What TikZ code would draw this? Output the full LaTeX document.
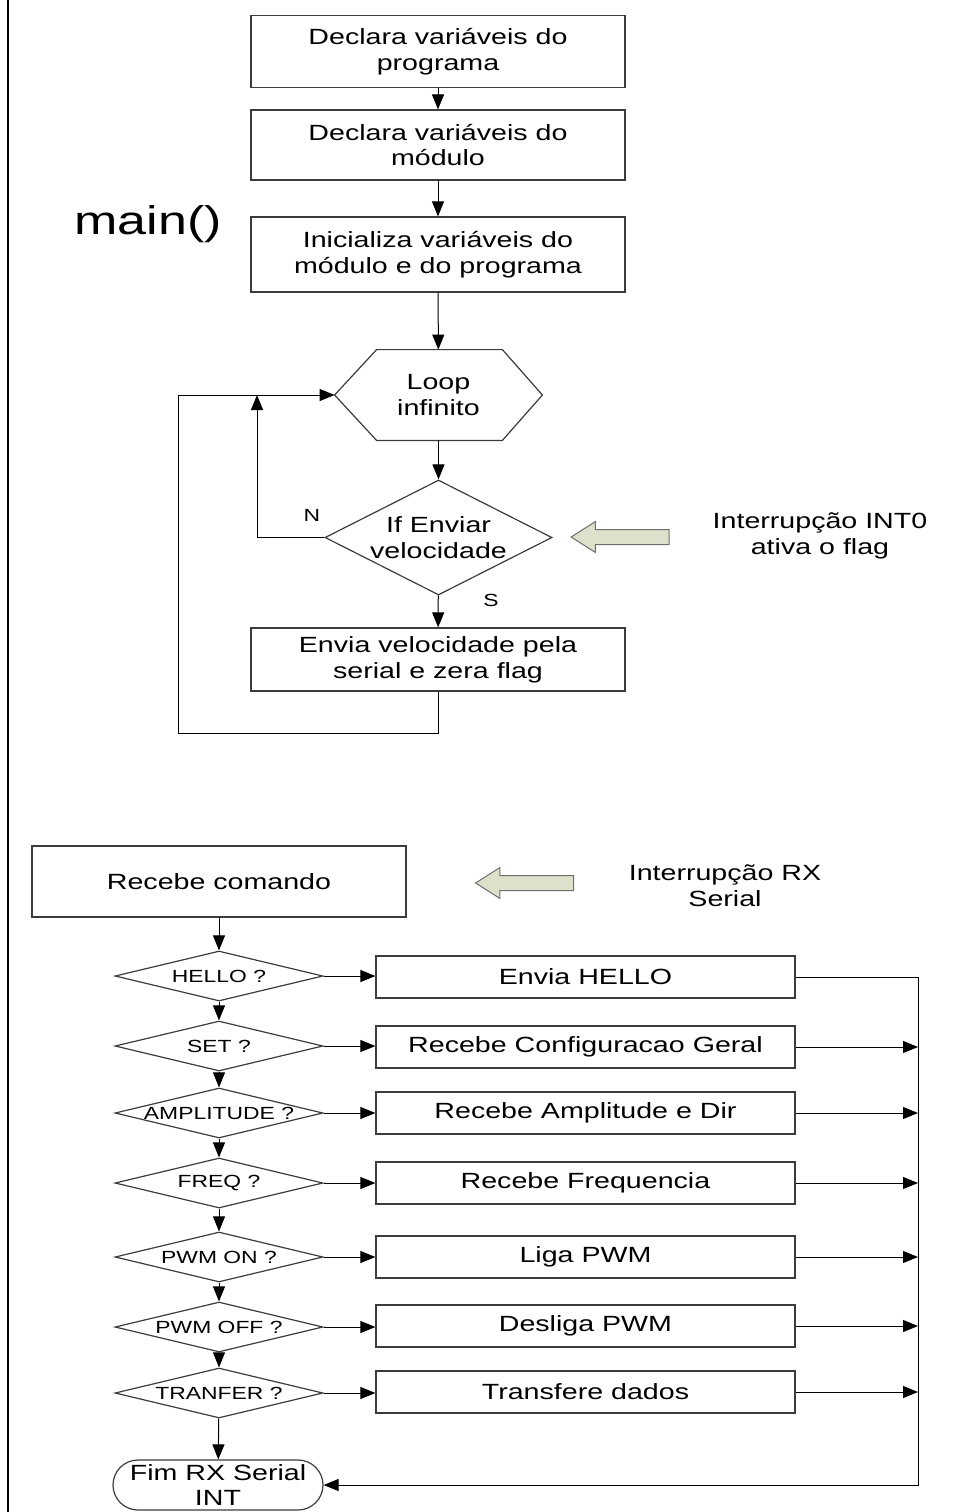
\documentclass[tikz,border=0pt]{standalone}
\usepackage{fontspec}
\setmainfont{Liberation Sans}[FakeStretch=1.3]
\usepackage{tikz}
\usetikzlibrary{calc,arrows.meta,shapes.geometric,shapes.misc,shapes.arrows}
\definecolor{edge}{HTML}{3C3C3C}
\definecolor{sage}{HTML}{DDE0CB}
\definecolor{sageline}{HTML}{6E6E6E}
\newcommand{\txtbig}{\fontsize{11}{12.8}\selectfont}
\newcommand{\txtsmall}{\fontsize{8.8}{10}\selectfont}

\begin{document}
\begin{tikzpicture}[x=0.5pt,y=-0.5pt,
  flow/.style={-{Triangle[length=7.5pt,width=6pt]},line width=0.5pt},
  stepbox/.style={draw=edge,line width=0.6pt,minimum width=187pt,minimum height=36pt,align=center,font=\txtbig,inner sep=1pt},
  testbox/.style={stepbox,minimum width=209.5pt,minimum height=21pt},
  bigdia/.style={diamond,draw=edge,line width=0.6pt,inner sep=0pt,minimum width=113.5pt,minimum height=57.5pt,label={[font=\txtbig,align=center]center:#1}},
  smalldia/.style={diamond,draw=edge,line width=0.6pt,inner sep=0pt,minimum width=104pt,minimum height=25pt,label={[font=\txtsmall]center:#1}},
  fatarrow/.style={single arrow,shape border rotate=180,draw=sageline,fill=sage,line width=0.5pt,inner sep=3.5pt,minimum height=49pt,single arrow head extend=4pt,single arrow tip angle=65}]
\useasboundingbox (0,0) rectangle (964,1512);
\draw[line width=1.3pt] (8,0) -- (8,1512);
% main()
\node[stepbox] (decl1) at (438,51.5) {Declara variáveis do\\programa};
\node[stepbox,minimum height=35pt] (decl2) at (438,145) {Declara variáveis do\\módulo};
\node[stepbox,minimum height=37.5pt] (init) at (438,254.5) {Inicializa variáveis do\\módulo e do programa};
\node[font=\fontsize{20}{22}\selectfont] (mainf) at (148,224) {main()};
\node[minimum width=103.5pt,minimum height=45pt,align=center,font=\txtbig,inner sep=0pt] (loop) at (438.5,395) {Loop\\infinito};
\draw[edge,line width=0.6pt] (loop.west) -- ($(loop.north west)+(42,0)$) -- ($(loop.north east)+(-40,0)$) -- (loop.east) -- ($(loop.south east)+(-40,0)$) -- ($(loop.south west)+(42,0)$) -- cycle;
\node[bigdia={If Enviar\\velocidade}] (ifenv) at (438.5,537.5) {};
\node[stepbox,minimum height=31.5pt] (envia) at (438,659.5) {Envia velocidade pela\\serial e zera flag};
\node[font=\txtsmall] (nlab) at (312,515) {N};
\node[font=\txtsmall] (slab) at (491,600) {S};
\node[fatarrow] (int0arr) at (626,537) {};
\node[font=\txtbig,align=center] (int0) at (820,536) {Interrupção INT0\\ativa o flag};
\coordinate (nret) at (257,395);
\coordinate (back) at (178,733);
\draw[flow] (decl1) -- (decl2);
\draw[flow] (decl2) -- (init);
\draw[flow] (init) -- (loop);
\draw[flow] (loop) -- (ifenv);
\draw[flow] (ifenv) -- (envia);
\draw[flow] (ifenv.west) -| (nret);
\draw[flow] (envia.south) |- (back) |- (loop.west);
% RX serial interrupt
\node[stepbox,minimum height=35.5pt] (rxcmd) at (219,881.5) {Recebe comando};
\node[fatarrow] (rxarr) at (530.5,883) {};
\node[font=\txtbig,align=center] (rxint) at (725,886) {Interrupção RX\\Serial};
\node[smalldia={HELLO ?}] (qhello) at (219,976) {};
\node[smalldia={SET ?}] (qset) at (219,1046) {};
\node[smalldia={AMPLITUDE ?}] (qamp) at (219,1113) {};
\node[smalldia={FREQ ?}] (qfreq) at (219,1183) {};
\node[smalldia={PWM ON ?}] (qpwmon) at (219,1257) {};
\node[smalldia={PWM OFF ?}] (qpwmoff) at (219,1327) {};
\node[smalldia={TRANFER ?}] (qtransf) at (219,1393) {};
\node[testbox] (aHello) at (585.5,977) {Envia HELLO};
\node[testbox] (aSet) at (585.5,1047) {Recebe Configuracao Geral};
\node[testbox] (aAmp) at (585.5,1113) {Recebe Amplitude e Dir};
\node[testbox] (aFreq) at (585.5,1183) {Recebe Frequencia};
\node[testbox] (aPwmOn) at (585.5,1257) {Liga PWM};
\node[testbox] (aPwmOff) at (585.5,1326) {Desliga PWM};
\node[testbox] (aTransf) at (585.5,1392) {Transfere dados};
\node[rounded rectangle,draw=edge,line width=0.6pt,minimum width=105pt,minimum height=25pt,inner sep=0pt,label={[font=\txtbig,align=center]center:Fim RX Serial\\INT}] (fim) at (218,1485) {};
\coordinate (rtop) at (918,976);
\coordinate (rbot) at (918,1485);
\draw[flow] (rxcmd) -- (qhello);
\draw[flow] (qhello) -- (qset);
\draw[flow] (qset) -- (qamp);
\draw[flow] (qamp) -- (qfreq);
\draw[flow] (qfreq) -- (qpwmon);
\draw[flow] (qpwmon) -- (qpwmoff);
\draw[flow] (qpwmoff) -- (qtransf);
\draw[flow] (qtransf) -- (fim);
\draw[flow] (qhello) -- (qhello -| aHello.west);
\draw[flow] (qset) -- (qset -| aSet.west);
\draw[flow] (qamp) -- (qamp -| aAmp.west);
\draw[flow] (qfreq) -- (qfreq -| aFreq.west);
\draw[flow] (qpwmon) -- (qpwmon -| aPwmOn.west);
\draw[flow] (qpwmoff) -- (qpwmoff -| aPwmOff.west);
\draw[flow] (qtransf) -- (qtransf -| aTransf.west);
\draw[flow] (aHello.east) -- (aHello.east -| rtop) -- (rbot) -- (fim.east);
\draw[flow] (aSet.east) -- (aSet.east -| rtop);
\draw[flow] (aAmp.east) -- (aAmp.east -| rtop);
\draw[flow] (aFreq.east) -- (aFreq.east -| rtop);
\draw[flow] (aPwmOn.east) -- (aPwmOn.east -| rtop);
\draw[flow] (aPwmOff.east) -- (aPwmOff.east -| rtop);
\draw[flow] (aTransf.east) -- (aTransf.east -| rtop);
\end{tikzpicture}
\end{document}
